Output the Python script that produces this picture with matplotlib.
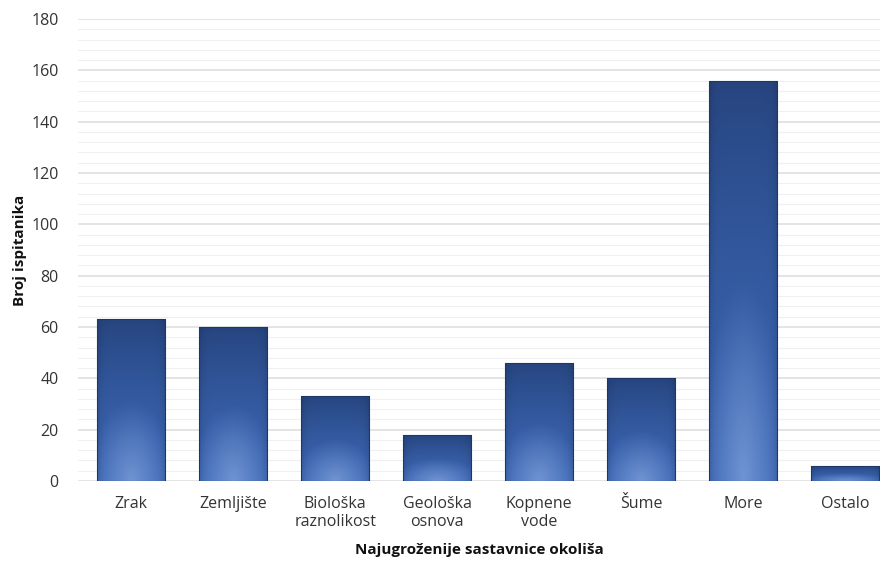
import numpy as np
import matplotlib
matplotlib.use("Agg")
import matplotlib.pyplot as plt
from matplotlib.ticker import MultipleLocator

# --- data ---
categories = ["Zrak", "Zemljište", "Biološka\nraznolikost", "Geološka\nosnova",
              "Kopnene\nvode", "Šume", "More", "Ostalo"]
values = [63, 60, 33, 18, 46, 40, 156, 6]
y_ticks = [0, 20, 40, 60, 80, 100, 120, 140, 160, 180]

plt.rcParams['font.family'] = ['Open Sans', 'DejaVu Sans']

fig = plt.figure(figsize=(8.88, 5.61), dpi=100)
ax = fig.add_axes([78 / 888, 80 / 561, 802 / 888, 462 / 561])

x = np.arange(len(categories))
bars = ax.bar(x, values, width=0.667, color="none", edgecolor="#1d3766",
              linewidth=0.8, zorder=3)

# gradient fill: dark navy at top, lighter blue with a glow at bottom centre
top = np.array([0x26, 0x44, 0x7e]) / 255
mid = np.array([0x3e, 0x6a, 0xba]) / 255
glow = np.array([0x86, 0xa6, 0xdc]) / 255
ny, nx = 200, 60
yy = np.linspace(0, 1, ny)[:, None]          # 0 = top, 1 = bottom
xx = np.linspace(-1, 1, nx)[None, :]

for b in bars:
    h = b.get_height()
    x0, w = b.get_x(), b.get_width()
    t = yy ** 0.8
    img = top[None, None, :] * (1 - t[..., None]) + mid[None, None, :] * t[..., None]
    img = np.broadcast_to(img, (ny, nx, 3)).copy()
    # radial glow at bottom centre, sized relative to the bar
    dy = (1 - yy) / 0.5
    r = np.sqrt((xx / 1.2) ** 2 + dy ** 2)
    a = np.clip(1 - r, 0, 1) ** 1.1 * 0.7
    img = img * (1 - a[..., None]) + glow[None, None, :] * a[..., None]
    edge = (np.abs(xx) ** 8) * 0.12
    img = img * (1 - edge[..., None])
    im = ax.imshow(img, extent=[x0, x0 + w, 0, h], aspect="auto",
                   origin="upper", zorder=2, interpolation="bilinear")
    im.set_clip_path(b)

ax.set_xlim(-0.52, 7.34)
ax.set_ylim(0, 180)
ax.set_yticks(y_ticks)
ax.yaxis.set_minor_locator(MultipleLocator(4))
ax.grid(axis="y", which="major", color="#dcdcdc", linewidth=1.1, zorder=0)
ax.grid(axis="y", which="minor", color="#f0f0f0", linewidth=0.8, zorder=0)
ax.set_axisbelow(True)

ax.set_xticks(x)
ax.set_xticklabels(categories, fontsize=11.5, color="#333333", linespacing=1.15)
ax.tick_params(axis="y", labelsize=11.5, labelcolor="#333333", length=0, pad=14)
ax.tick_params(axis="x", length=0, pad=11)
ax.tick_params(which="minor", length=0)
for s in ax.spines.values():
    s.set_visible(False)

ax.set_ylabel("Broj ispitanika", fontsize=11, fontweight="bold",
              color="#111111")
ax.set_xlabel("Najugroženije sastavnice okoliša", fontsize=11,
              fontweight="bold", labelpad=9, color="#111111")
ax.yaxis.set_label_coords(-51 / 802, 0.5)

fig.savefig("out.png", dpi=100)
